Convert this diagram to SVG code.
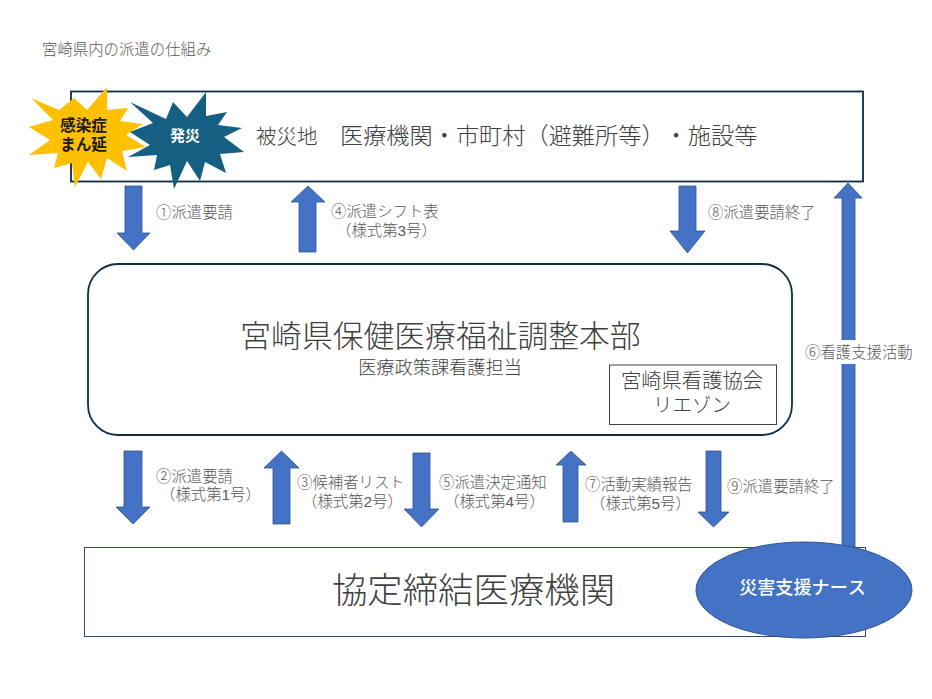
<svg xmlns="http://www.w3.org/2000/svg" width="932" height="699" viewBox="0 0 932 699">
<style>
text{font-family:"Liberation Sans","Noto Sans CJK JP",sans-serif;fill:#404040;font-weight:300;font-kerning:none;text-spacing-trim:space-all}
.lb{font-size:15.400px;fill:#595959}
.arrow{fill:#4472c4;stroke:#2f528f;stroke-width:.8}
.box{fill:#fff;stroke:#0f2d45;stroke-width:1.8}
</style>
<rect width="932" height="699" fill="#fff"/>
<text x="42" y="55" class="lb">宮崎県内の派遣の仕組み</text>
<g id="hisaichi"><rect class="box" x="71" y="91.500" width="792" height="90"/>
<text x="256" y="144" font-size="20.500">被災地</text><text x="340" y="144" font-size="23.200">医療機関・市町村（避難所等）・施設等</text></g>
<g id="kansen"><polygon fill="#ffc000" points="31,98 59,110 74,98 87,110 107,87 107,110 128,108 120,121 143,124 126,135 146,147 122,151 127,171 107,158 101,179 88,162 75,187 72,163 54,168 58,153 29,155 50,140 29,127 53,120"/>
<text text-anchor="middle" font-size="15.700" style="fill:#1a1a1a;font-weight:700"><tspan x="83.500" y="131">感染症</tspan><tspan x="83.500" y="150">まん延</tspan></text></g>
<g id="hassai"><polygon fill="#156082" points="130,102 166,119 173,102 187,117 206,92 206,116 227,112 218,125 242,128 224,137 244,152 220,154 226,173 205,162 200,181 187,161 174,189 170,165 154,170 157,155 128,157 150,145 130,132 153,123"/>
<text x="185" y="141" text-anchor="middle" font-size="15" style="fill:#fff;font-weight:700">発災</text></g>
<g id="honbu"><rect class="box" x="88" y="264" width="704" height="171" rx="30"/>
<text x="440.500" y="347" text-anchor="middle" font-size="30.800">宮崎県保健医療福祉調整本部</text>
<text x="440" y="374" text-anchor="middle" font-size="18.200">医療政策課看護担当</text></g>
<g id="liaison"><rect x="609.500" y="365" width="167" height="59.500" fill="#fff" stroke="#404040" stroke-width="1"/>
<text x="692" y="388" text-anchor="middle" font-size="20.300">宮崎県看護協会</text><text x="692" y="412" text-anchor="middle" font-size="19.500">リエゾン</text></g>
<g id="kyotei"><rect x="84.500" y="547.500" width="781" height="89" fill="#fff" stroke="#2f4b6e" stroke-width="1"/>
<text x="473.500" y="603" text-anchor="middle" font-size="35.400">協定締結医療機関</text></g>
<g id="connectors">
<polygon class="arrow" points="125,186 142,186 142,233 150,233 133.500,250 117,233 125,233"/>
<polygon class="arrow" points="299,252 316,252 316,202 325,202 308,186 291,202 299,202"/>
<polygon class="arrow" points="679,186 696,186 696,231 705,231 687.500,253 670,231 679,231"/>
<polygon class="arrow" points="124,451 142,451 142,507 150,507 133,524 116,507 124,507"/>
<polygon class="arrow" points="273,524 290,524 290,468 299,468 281.500,451 264,468 273,468"/>
<polygon class="arrow" points="413,453 430,453 430,509 439,509 421.500,527 404,509 413,509"/>
<polygon class="arrow" points="563,522 578,522 578,465 586,465 571,451 556,465 563,465"/>
<polygon class="arrow" points="706,451 721,451 721,512 729,512 713.500,527 698,512 706,512"/>
<polygon class="arrow" points="842,548 855,548 855,198 862,198 848,183 834,198 842,198"/>
</g>
<g id="nurse"><ellipse cx="804" cy="590" rx="108" ry="48" fill="#4472c4" stroke="#2f528f" stroke-width="1"/>
<text x="802.500" y="594" text-anchor="middle" font-size="18.100" style="fill:#fff;font-weight:500">災害支援ナース</text></g>
<g id="labels">
<text x="156" y="218" class="lb">①派遣要請</text>
<text x="331" y="217" class="lb">④派遣シフト表</text><text x="336" y="236" class="lb">（様式第3号）</text>
<text x="708" y="218" class="lb">⑧派遣要請終了</text>
<rect x="804" y="340" width="112" height="24" fill="#fff"/>
<text x="805" y="358" class="lb">⑥看護支援活動</text>
<text x="156" y="482" class="lb">②派遣要請</text><text x="160" y="500" class="lb">（様式第1号）</text>
<text x="297" y="488" class="lb">③候補者リスト</text><text x="302" y="507" class="lb">（様式第2号）</text>
<text x="439" y="488" class="lb">⑤派遣決定通知</text><text x="444" y="507" class="lb">（様式第4号）</text>
<text x="585" y="490" class="lb">⑦活動実績報告</text><text x="590" y="509" class="lb">（様式第5号）</text>
<text x="727" y="492" class="lb">⑨派遣要請終了</text>
</g>
</svg>
